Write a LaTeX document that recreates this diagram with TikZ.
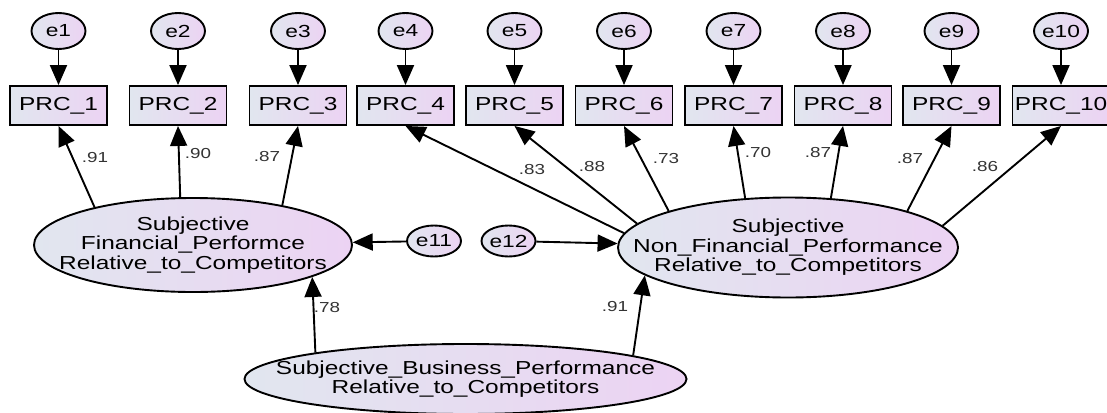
\documentclass[tikz,border=0pt]{standalone}
\usepackage{fontspec}
\setmainfont{Liberation Sans}
\usepackage{graphicx}
\usetikzlibrary{arrows.meta,shapes.geometric}
\definecolor{fillL}{RGB}{225,230,239}
\definecolor{fillR}{RGB}{236,211,243}
% horizontally widened text, as in the drawing
\newcommand\wx[1]{\scalebox{1.3}[1]{#1}}
\tikzset{
  base/.style={draw=black, line width=1.9pt, left color=fillL, right color=fillR, inner sep=0pt},
  obs/.style={base, rectangle, minimum width=97pt, minimum height=39pt, font=\fontsize{18.8}{20}\selectfont},
  err/.style={base, ellipse, minimum width=54pt, minimum height=36pt, font=\fontsize{17.5}{18}\selectfont},
  lat/.style={base, ellipse},
  lattext/.style={align=center, inner sep=0pt, font=\fontsize{18.8}{19.6}\selectfont},
  path/.style={line width=1.9pt, -{Triangle[length=20pt,width=17pt]}},
  coef/.style={font=\fontsize{14.5}{15}\selectfont, text=black!80, inner sep=0pt},
}
\begin{document}
\begin{tikzpicture}[x=1pt,y=-1pt]
\useasboundingbox (0,0) rectangle (1107,412);

% observed indicators with their error terms
\foreach \i/\px in {1/58.5,2/178,3/298,4/405.5,5/514.5,6/624,7/733.5,8/843,9/951.5,10/1061}{
  \node[obs] (p\i) at (\px,105.5) {\wx{PRC\_\i}};
  \node[err] (e\i) at (\px,31) {\wx{e\i}};
  \draw[path] (e\i) -- (p\i);
}

% latent constructs
\node[lat, minimum width=318pt, minimum height=94pt] (sfp) at (193,245) {};
\node[lattext] (sfpt) at (sfp.center) {\wx{Subjective}\\\wx{Financial\_Performce}\\\wx{Relative\_to\_Competitors}};

\node[lat, minimum width=340pt, minimum height=100pt] (snfp) at (788,247.5) {};
\node[lattext] (snfpt) at (snfp.center) {\wx{Subjective}\\\wx{Non\_Financial\_Performance}\\\wx{Relative\_to\_Competitors}};

\node[lat, minimum width=442pt, minimum height=70pt] (sbp) at (465.5,379) {};
\node[lattext] (sbpt) at (sbp.center) {\wx{Subjective\_Business\_Performance}\\\wx{Relative\_to\_Competitors}};

% disturbances
\node[err, minimum height=31pt] (e11) at (434,241) {\wx{e11}};
\node[err, minimum height=31pt] (e12) at (508.5,241) {\wx{e12}};

% structural paths
\draw[path] (e11) -- (sfp);
\draw[path] (e12) -- (snfp);
\draw[path] (sbp.170.5) -- (sfp.-15.3);
\draw[path] (sbp.8.5) -- (snfp.191.5);

% loadings
\draw[path] (sfp.159.4) -- (p1.south);
\draw[path] (sfp.105.5) -- (p2.south);
\draw[path] (sfp.24.9) -- (p3.south);
\draw[path] (snfp.175) -- (p4.south);
\draw[path] (snfp.171.8) -- (p5.south);
\draw[path] (snfp.163) -- (p6.south);
\draw[path] (snfp.131.6) -- (p7.south);
\draw[path] (snfp.49) -- (p8.south);
\draw[path] (snfp.17.8) -- (p9.south);
\draw[path] (snfp.8.3) -- (p10.south);

% coefficients
\node[coef] (c1) at (95,158) {\wx{.91}};
\node[coef] (c2) at (198,154) {\wx{.90}};
\node[coef] (c3) at (267,157) {\wx{.87}};
\node[coef] (c4) at (532,170) {\wx{.83}};
\node[coef] (c5) at (592,167) {\wx{.88}};
\node[coef] (c6) at (666,159) {\wx{.73}};
\node[coef] (c7) at (758,153) {\wx{.70}};
\node[coef] (c8) at (818,153) {\wx{.87}};
\node[coef] (c9) at (910,159) {\wx{.87}};
\node[coef] (c10) at (985,167) {\wx{.86}};
\node[coef] (c11) at (327,308) {\wx{.78}};
\node[coef] (c12) at (615,307) {\wx{.91}};
\end{tikzpicture}
\end{document}
